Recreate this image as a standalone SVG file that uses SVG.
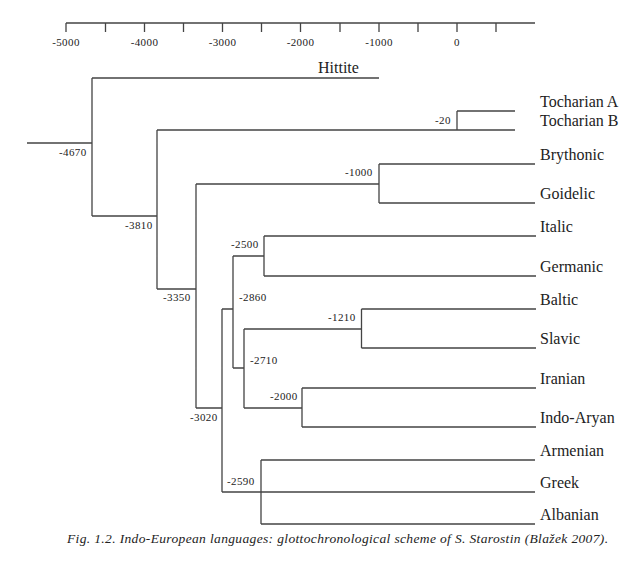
<svg xmlns="http://www.w3.org/2000/svg" width="640" height="572" viewBox="0 0 640 572">
<style>
.ln{stroke:#444;stroke-width:1.3;fill:none}
.ax{font-family:"Liberation Serif","Times New Roman",serif;font-size:11px;fill:#222;text-anchor:middle;letter-spacing:0.4px}
.nd{font-family:"Liberation Serif","Times New Roman",serif;font-size:11px;fill:#222;letter-spacing:0.4px}
.lb{font-family:"Liberation Serif","Times New Roman",serif;font-size:16px;fill:#222}
.cap{font-family:"Liberation Serif","Times New Roman",serif;font-size:13.5px;font-style:italic;fill:#222}
</style>
<rect width="640" height="572" fill="#fff"/>
<g id="axis">
<path class="ln" d="M66,23H535M66,23V32M105.5,23V32M144.5,23V32M183.5,23V32M222.5,23V32M261.5,23V32M300.5,23V32M340,23V32M379,23V32M418,23V32M457,23V32M496,23V32"/>
<text class="ax" x="66" y="46">-5000</text>
<text class="ax" x="144.5" y="46">-4000</text>
<text class="ax" x="222.5" y="46">-3000</text>
<text class="ax" x="300.5" y="46">-2000</text>
<text class="ax" x="379" y="46">-1000</text>
<text class="ax" x="457" y="46">0</text>
</g>
<g id="connectors">
<path class="ln" d="M27,143H92M92,78V216M92,78H379M92,216H157M157,130V289M157,130H515M457,111V130M457,111H515M157,289H196M196,184V408M196,184H379M379,164V203M379,164H535M379,203H535M196,408H222M222,309V492M222,309H233M233,256V368M233,256H264M264,236V276M264,236H536M264,276H536M233,368H244M244,329V408M244,329H361.5M361.5,309V348M361.5,309H536M361.5,348H536M244,408H302M302,388V427M302,388H536M302,427H536M222,492H535M261,460V524M261,460H535M261,524H535"/>
</g>
<g id="node-4670"><text class="nd" x="59" y="156">-4670</text></g>
<g id="node-3810"><text class="nd" x="125" y="229">-3810</text></g>
<g id="node-3350"><text class="nd" x="163" y="301">-3350</text></g>
<g id="node-3020"><text class="nd" x="190" y="421">-3020</text></g>
<g id="node-20"><text class="nd" x="435" y="124">-20</text></g>
<g id="node-1000"><text class="nd" x="345" y="176">-1000</text></g>
<g id="node-2500"><text class="nd" x="231" y="248">-2500</text></g>
<g id="node-2860"><text class="nd" x="239" y="301">-2860</text></g>
<g id="node-1210"><text class="nd" x="328" y="321">-1210</text></g>
<g id="node-2710"><text class="nd" x="250" y="364">-2710</text></g>
<g id="node-2000"><text class="nd" x="270" y="400">-2000</text></g>
<g id="node-2590"><text class="nd" x="227" y="485">-2590</text></g>
<g id="hittite"><text class="lb" x="318" y="73">Hittite</text></g>
<g id="tocharian-a"><text class="lb" x="540" y="107">Tocharian A</text></g>
<g id="tocharian-b"><text class="lb" x="540" y="126">Tocharian B</text></g>
<g id="brythonic"><text class="lb" x="540" y="160">Brythonic</text></g>
<g id="goidelic"><text class="lb" x="540" y="199">Goidelic</text></g>
<g id="italic"><text class="lb" x="540" y="232">Italic</text></g>
<g id="germanic"><text class="lb" x="540" y="272">Germanic</text></g>
<g id="baltic"><text class="lb" x="540" y="305">Baltic</text></g>
<g id="slavic"><text class="lb" x="540" y="344">Slavic</text></g>
<g id="iranian"><text class="lb" x="540" y="384">Iranian</text></g>
<g id="indo-aryan"><text class="lb" x="540" y="423">Indo-Aryan</text></g>
<g id="armenian"><text class="lb" x="540" y="456">Armenian</text></g>
<g id="greek"><text class="lb" x="540" y="488">Greek</text></g>
<g id="albanian"><text class="lb" x="540" y="520">Albanian</text></g>
<text class="cap" x="67" y="543" textLength="541" lengthAdjust="spacing">Fig. 1.2. Indo-European languages: glottochronological scheme of S. Starostin (Blažek 2007).</text>
</svg>
